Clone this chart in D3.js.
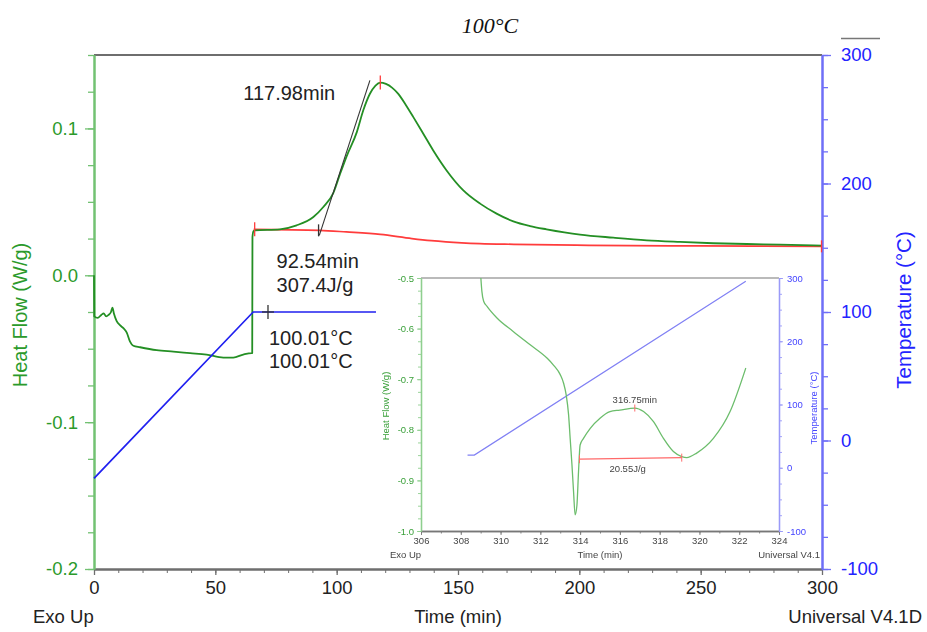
<!DOCTYPE html>
<html>
<head>
<meta charset="utf-8">
<script src="https://cdn.jsdelivr.net/npm/d3@7/dist/d3.min.js"></script>
<style>
  body { margin: 0; background: #fff; }
  text { font-family: "Liberation Sans", Arial, sans-serif; }
</style>
</head>
<body>
<svg id="chart" width="927" height="632"></svg>
<script>
// ---------- Main DSC run: isothermal hold at 100 °C ----------
const timeTicks = [0, 50, 100, 150, 200, 250, 300];
const heatTicks = [-0.2, -0.1, 0.0, 0.1];
const tempTicks = [-100, 0, 100, 200, 300];

// Heat flow (W/g) against time (min)
const heatFlowMain = [
  [0, 0.000], [0.1, -0.028], [1.5, -0.029], [3.0, -0.027], [4.0, -0.026], [5.0, -0.028],
  [6.0, -0.027], [7.0, -0.025], [7.6, -0.022], [8.2, -0.026], [9.3, -0.031], [10.7, -0.034],
  [12.1, -0.036], [13.5, -0.039], [14.8, -0.045], [16.2, -0.048], [19.0, -0.049], [25.8, -0.051],
  [32.7, -0.052], [39.6, -0.053], [46.4, -0.054], [53.3, -0.056], [57.4, -0.056], [61.5, -0.054],
  [65.0, -0.053], [65.2, -0.053], [65.3, 0.026], [65.7, 0.030], [66.3, 0.0306], [76.6, 0.0313],
  [83.5, 0.034], [90.4, 0.0397], [94.5, 0.0465], [98.6, 0.056], [101.4, 0.069], [104.1, 0.081],
  [108.3, 0.0975], [111.0, 0.1125], [113.7, 0.1236], [116.0, 0.1292], [118.0, 0.1312],
  [120.3, 0.1303], [122.8, 0.1278], [125.4, 0.1235], [128.5, 0.1160], [131.6, 0.1077], [135.7, 0.0964],
  [139.8, 0.085], [145.3, 0.0714], [152.2, 0.0578], [159.1, 0.0488], [165.9, 0.042],
  [172.8, 0.0367], [179.7, 0.0335], [186.5, 0.0313], [200.3, 0.0277], [214.0, 0.0256],
  [227.8, 0.0238], [241.5, 0.0227], [255.2, 0.0218], [269.0, 0.0213], [282.7, 0.0209],
  [296.4, 0.0204], [300.0, 0.0202]
];

// Integration baseline under the exotherm
const baselineMain = [
  [65.8, 0.0313], [93, 0.0306], [104, 0.0295], [118, 0.0278], [131, 0.0250], [139, 0.0236],
  [145, 0.0228], [159, 0.0216], [173, 0.0211], [204, 0.0204], [250, 0.0200], [300, 0.0197]
];

// Onset tangent
const tangentMain = [[92.85, 0.0272], [113.7, 0.1327]];

// Sample temperature (°C)
const tempMain = [[0, -29.5], [65.6, 100], [116.2, 100]];

// Analysis results
const onsetTime = 92.54, onsetHeat = 0.0306;
const peakTime = 117.98, peakHeat = 0.1312;
const holdMarkTime = 71.7, holdTemp = 100.01;
const mainLabels = { peak: "117.98min", onset: "92.54min", enthalpy: "307.4J/g", temp: "100.01°C" };

// ---------- Inset: end of run, heating scan ----------
const insetTimeTicks = [306, 308, 310, 312, 314, 316, 318, 320, 322, 324];
const insetHeatTicks = [-1.0, -0.9, -0.8, -0.7, -0.6, -0.5];
const insetTempTicks = [-100, 0, 100, 200, 300];

const heatFlowInset = [
  [309.01, -0.5], [309.06, -0.526], [309.15, -0.546], [309.32, -0.556], [309.82, -0.579],
  [310.65, -0.606], [311.49, -0.632], [312.33, -0.658], [312.66, -0.672], [313.0, -0.691],
  [313.17, -0.708], [313.30, -0.731], [313.42, -0.770], [313.50, -0.817], [313.59, -0.869],
  [313.67, -0.922], [313.75, -0.968], [313.84, -0.949], [313.92, -0.883], [314.0, -0.830],
  [314.17, -0.817], [314.51, -0.797], [315.0, -0.777], [315.5, -0.764], [316.0, -0.761],
  [316.75, -0.757], [317.19, -0.764], [317.69, -0.784], [318.19, -0.817], [318.69, -0.843],
  [319.11, -0.853], [319.36, -0.855], [319.86, -0.846], [320.70, -0.817], [321.54, -0.764],
  [322.33, -0.678]
];
const baselineInset = [[313.97, -0.858], [319.11, -0.855]];
const tempInset = [[308.34, 20], [308.68, 20], [322.33, 295]];
const insetPeakTime = 316.75, insetPeakHeat = -0.757;
const insetLabels = { peak: "316.75min", enthalpy: "20.55J/g" };

// ---------- Styling ----------
const C = {
  green: "#248f24", greenAxis: "#72c172", greenText: "#2b9a2b",
  blue: "#2020f0", blueAxis: "#6f6ff7", blueText: "#2323ff",
  red: "#ff3c3c", frame: "#6e6e6e", text: "#222"
};

const svg = d3.select("#chart");

// Scales for the main plot
const x = d3.scaleLinear().domain([0, 300]).range([94, 822]);
const y = d3.scaleLinear().domain([-0.2, 0.15]).range([569, 55]);
const yT = d3.scaleLinear().domain([-100, 300]).range([569, 55]);

// Title
svg.append("text").attr("x", 490).attr("y", 33).attr("text-anchor", "middle")
  .style("font-family", "'Liberation Serif', 'Times New Roman', serif")
  .style("font-style", "italic").style("font-size", "22px").attr("fill", "#111")
  .text("100°C");
svg.append("line").attr("x1", 841).attr("x2", 880).attr("y1", 38.5).attr("y2", 38.5)
  .attr("stroke", "#777").attr("stroke-width", 1.5);

// Frame top
svg.append("line").attr("x1", 94).attr("x2", 822).attr("y1", 55).attr("y2", 55)
  .attr("stroke", C.frame).attr("stroke-width", 2);

function styleAxis(g, color, fontSize, textColor) {
  g.select(".domain").attr("stroke", color).attr("stroke-width", 2);
  g.selectAll(".tick line").attr("stroke", color).attr("stroke-width", 1.3);
  g.selectAll(".tick text").attr("fill", textColor).style("font-size", fontSize)
    .style("font-family", "'Liberation Sans', Arial, sans-serif");
}

// Minor ticks
const minorRange = (a, b, s) => d3.range(a, b + s / 2, s);

// Bottom axis
svg.append("g").attr("transform", "translate(0,569)")
  .call(d3.axisBottom(x).tickValues(minorRange(0, 300, 10)).tickFormat("").tickSize(4).tickSizeOuter(0))
  .call(g => { g.select(".domain").attr("stroke", C.frame).attr("stroke-width", 2);
               g.selectAll(".tick line").attr("stroke", C.frame); });
svg.append("g").attr("transform", "translate(0,569)")
  .call(d3.axisBottom(x).tickValues(timeTicks).tickFormat(d3.format("d")).tickSize(6).tickSizeOuter(0).tickPadding(6))
  .call(g => styleAxis(g, C.frame, "18.5px", C.text));

// Left axis
svg.append("g").attr("transform", "translate(94,0)")
  .call(d3.axisLeft(y).tickValues(minorRange(-0.2, 0.15, 0.025)).tickFormat("").tickSize(6).tickSizeOuter(0))
  .call(g => styleAxis(g, C.greenAxis, "18.5px", C.greenText));
svg.append("g").attr("transform", "translate(94,0)")
  .call(d3.axisLeft(y).tickValues(heatTicks).tickFormat(d => d.toFixed(1)).tickSize(9).tickSizeOuter(0).tickPadding(7))
  .call(g => styleAxis(g, C.greenAxis, "18.5px", C.greenText));

// Right axis
svg.append("g").attr("transform", "translate(822,0)")
  .call(d3.axisRight(yT).tickValues(minorRange(-100, 300, 25)).tickFormat("").tickSize(6).tickSizeOuter(0))
  .call(g => styleAxis(g, C.blueAxis, "18.5px", C.blueText));
svg.append("g").attr("transform", "translate(822,0)")
  .call(d3.axisRight(yT).tickValues(tempTicks).tickFormat(d => String(d)).tickSize(9).tickSizeOuter(0).tickPadding(10))
  .call(g => styleAxis(g, C.blueAxis, "18.5px", C.blueText));

// Axis titles
svg.append("text").attr("transform", "translate(27,315) rotate(-90)").attr("text-anchor", "middle")
  .attr("fill", C.greenText).style("font-size", "20px").text("Heat Flow (W/g)");
svg.append("text").attr("transform", "translate(911,310) rotate(-90)").attr("text-anchor", "middle")
  .attr("fill", C.blueText).style("font-size", "20.5px").text("Temperature (°C)");
svg.append("text").attr("x", 33).attr("y", 623).attr("fill", C.text).style("font-size", "18.5px").text("Exo Up");
svg.append("text").attr("x", 458).attr("y", 623).attr("text-anchor", "middle").attr("fill", C.text)
  .style("font-size", "18.5px").text("Time (min)");
svg.append("text").attr("x", 922).attr("y", 623).attr("text-anchor", "end").attr("fill", C.text)
  .style("font-size", "18.5px").text("Universal V4.1D");

// Curves
const lineH = d3.line().x(d => x(d[0])).y(d => y(d[1]));
const smoothH = d3.line().x(d => x(d[0])).y(d => y(d[1])).curve(d3.curveMonotoneX);
const lineT = d3.line().x(d => x(d[0])).y(d => yT(d[1]));

svg.append("path").datum(baselineMain).attr("d", smoothH).attr("fill", "none")
  .attr("stroke", C.red).attr("stroke-width", 1.7);
svg.append("path").datum(heatFlowMain).attr("d", smoothH).attr("fill", "none")
  .attr("stroke", C.green).attr("stroke-width", 1.8).attr("stroke-linejoin", "round");
svg.append("path").datum(tempMain).attr("d", lineT).attr("fill", "none")
  .attr("stroke", C.blue).attr("stroke-width", 1.7);
svg.append("path").datum(tangentMain).attr("d", lineH).attr("fill", "none")
  .attr("stroke", "#333").attr("stroke-width", 1.1);

// Markers
function vtick(px, py, h, color, w) {
  svg.append("line").attr("x1", px).attr("x2", px).attr("y1", py - h).attr("y2", py + h)
    .attr("stroke", color).attr("stroke-width", w || 1.3);
}
vtick(x(baselineMain[0][0]) + 1, y(baselineMain[0][1]), 7, C.red);
vtick(x(baselineMain[baselineMain.length - 1][0]) - 0.5, y(baselineMain[baselineMain.length - 1][1]), 6, C.red);
vtick(x(peakTime), y(peakHeat), 7, C.red);
vtick(x(onsetTime), y(onsetHeat), 6, "#333");
vtick(x(holdMarkTime), yT(holdTemp), 7, "#333");
svg.append("line").attr("x1", x(holdMarkTime) - 6).attr("x2", x(holdMarkTime) + 6)
  .attr("y1", yT(holdTemp)).attr("y2", yT(holdTemp)).attr("stroke", "#333").attr("stroke-width", 1.3);

// Annotation texts
const ann = (px, py, s) => svg.append("text").attr("x", px).attr("y", py).attr("fill", C.text)
  .style("font-size", "20px").text(s);
ann(x(peakTime) - 137, y(peakHeat) + 17, mainLabels.peak);
ann(x(onsetTime) - 42, y(onsetHeat) + 38, mainLabels.onset);
ann(x(onsetTime) - 42, y(onsetHeat) + 62, mainLabels.enthalpy);
ann(x(holdMarkTime) + 1, yT(holdTemp) + 33, mainLabels.temp);
ann(x(holdMarkTime) + 1, yT(holdTemp) + 56, mainLabels.temp);

// ---------- Inset ----------
const defs = svg.append("defs");
defs.append("filter").attr("id", "soft").append("feGaussianBlur").attr("stdDeviation", 0.45);

const inset = svg.append("g").attr("filter", "url(#soft)");
inset.append("rect").attr("x", 381).attr("y", 268).attr("width", 439).attr("height", 296).attr("fill", "#fff");

const ix = d3.scaleLinear().domain([306, 324]).range([421, 779]);
const iy = d3.scaleLinear().domain([-1.0, -0.5]).range([531, 278]);
const iyT = d3.scaleLinear().domain([-100, 300]).range([531, 278]);

function styleInset(g, color, textColor) {
  g.select(".domain").attr("stroke", color).attr("stroke-width", 1.3);
  g.selectAll(".tick line").attr("stroke", color).attr("stroke-width", 0.9);
  g.selectAll(".tick text").attr("fill", textColor).style("font-size", "9.5px")
    .style("font-family", "'Liberation Sans', Arial, sans-serif");
}

inset.append("line").attr("x1", 421).attr("x2", 779).attr("y1", 278).attr("y2", 278)
  .attr("stroke", "#777").attr("stroke-width", 1.2);

inset.append("g").attr("transform", "translate(0,531)")
  .call(d3.axisBottom(ix).tickValues(minorRange(306, 324, 1)).tickFormat("").tickSize(2.5).tickSizeOuter(0))
  .call(g => styleInset(g, "#777", "#444"));
inset.append("g").attr("transform", "translate(0,531)")
  .call(d3.axisBottom(ix).tickValues(insetTimeTicks).tickFormat(d3.format("d")).tickSize(4).tickSizeOuter(0).tickPadding(2))
  .call(g => styleInset(g, "#777", "#444"));

inset.append("g").attr("transform", "translate(421,0)")
  .call(d3.axisLeft(iy).tickValues(minorRange(-1.0, -0.5, 0.025)).tickFormat("").tickSize(3).tickSizeOuter(0))
  .call(g => styleInset(g, "#8fcf8f", C.greenText));
inset.append("g").attr("transform", "translate(421,0)")
  .call(d3.axisLeft(iy).tickValues(insetHeatTicks).tickFormat(d => d.toFixed(1)).tickSize(4).tickSizeOuter(0).tickPadding(3))
  .call(g => styleInset(g, "#8fcf8f", "#3aa03a"));

inset.append("g").attr("transform", "translate(779,0)")
  .call(d3.axisRight(iyT).tickValues(minorRange(-100, 300, 25)).tickFormat("").tickSize(3).tickSizeOuter(0))
  .call(g => styleInset(g, "#9a9af8", "#4444ff"));
inset.append("g").attr("transform", "translate(779,0)")
  .call(d3.axisRight(iyT).tickValues(insetTempTicks).tickFormat(d => String(d)).tickSize(4).tickSizeOuter(0).tickPadding(4))
  .call(g => styleInset(g, "#9a9af8", "#4444ff"));

inset.append("text").attr("transform", "translate(389,406) rotate(-90)").attr("text-anchor", "middle")
  .attr("fill", "#3aa03a").style("font-size", "9.5px").text("Heat Flow (W/g)");
inset.append("text").attr("transform", "translate(817,408) rotate(-90)").attr("text-anchor", "middle")
  .attr("fill", "#4444ff").style("font-size", "9.5px").text("Temperature (°C)");
inset.append("text").attr("x", 390).attr("y", 558).attr("fill", "#444").style("font-size", "9.5px").text("Exo Up");
inset.append("text").attr("x", 600).attr("y", 558).attr("text-anchor", "middle").attr("fill", "#444")
  .style("font-size", "9.5px").text("Time (min)");
inset.append("text").attr("x", 820).attr("y", 558).attr("text-anchor", "end").attr("fill", "#444")
  .style("font-size", "9.5px").text("Universal V4.1");

const ilineH = d3.line().x(d => ix(d[0])).y(d => iy(d[1])).curve(d3.curveMonotoneX);
const ilineT = d3.line().x(d => ix(d[0])).y(d => iyT(d[1]));

inset.append("path").datum(tempInset).attr("d", ilineT).attr("fill", "none")
  .attr("stroke", "#8080f4").attr("stroke-width", 1.2);
inset.append("path").datum(heatFlowInset).attr("d", ilineH).attr("fill", "none")
  .attr("stroke", "#6cbd6c").attr("stroke-width", 1.3);
inset.append("path").datum(baselineInset).attr("d", d3.line().x(d => ix(d[0])).y(d => iy(d[1])))
  .attr("fill", "none").attr("stroke", "#ff6a6a").attr("stroke-width", 1.3);

const itick = (px, py, h, color) => inset.append("line").attr("x1", px).attr("x2", px)
  .attr("y1", py - h).attr("y2", py + h).attr("stroke", color).attr("stroke-width", 1);
itick(ix(baselineInset[0][0]), iy(baselineInset[0][1]), 4, "#ff6a6a");
itick(ix(baselineInset[1][0]), iy(baselineInset[1][1]), 4, "#ff6a6a");
itick(ix(insetPeakTime), iy(insetPeakHeat), 3.5, "#ff6a6a");

inset.append("text").attr("x", ix(insetPeakTime)).attr("y", iy(insetPeakHeat) - 5)
  .attr("text-anchor", "middle").attr("fill", "#444").style("font-size", "9.5px").text(insetLabels.peak);
inset.append("text").attr("x", (ix(baselineInset[0][0]) + ix(baselineInset[1][0])) / 2 - 3)
  .attr("y", iy(baselineInset[0][1]) + 13).attr("text-anchor", "middle").attr("fill", "#444")
  .style("font-size", "9.5px").text(insetLabels.enthalpy);
</script>
</body>
</html>
